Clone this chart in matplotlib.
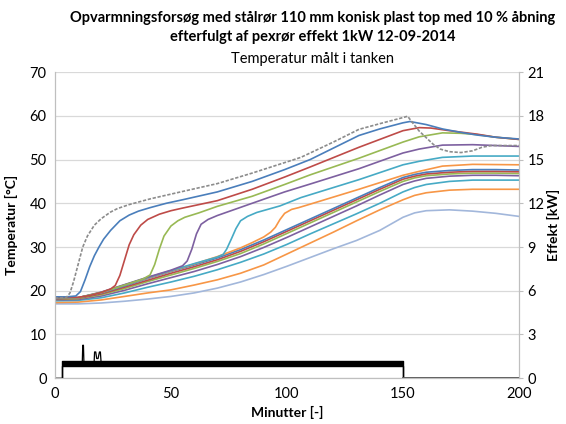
import matplotlib
matplotlib.use('Agg')
import matplotlib.pyplot as plt

plt.rcParams['font.family'] = ['Lato', 'DejaVu Sans']

# lower bundle of sensors (shared time axis, minutes)
t_low = [0, 10, 20, 30, 40, 50, 60, 70, 80, 90, 100, 110, 120, 130, 140, 150, 155, 160, 170, 180, 190, 200]
low_blue = [18.2, 18.4, 19.5, 21.1, 22.8, 24.4, 25.9, 27.5, 29.4, 31.6, 34.0, 36.4, 38.8, 41.2, 43.6, 45.9, 46.6, 47.1, 47.5, 47.7, 47.7, 47.6]
low_red = [18.1, 18.3, 19.3, 20.8, 22.4, 24.0, 25.5, 27.1, 29.0, 31.2, 33.6, 36.0, 38.4, 40.8, 43.2, 45.5, 46.2, 46.7, 47.1, 47.3, 47.3, 47.2]
low_green = [18.0, 18.2, 19.1, 20.5, 22.1, 23.6, 25.1, 26.7, 28.5, 30.7, 33.1, 35.5, 37.9, 40.3, 42.7, 45.0, 45.8, 46.3, 46.7, 46.9, 46.9, 46.8]
low_purple = [17.9, 18.0, 18.8, 20.1, 21.6, 23.0, 24.4, 26.0, 27.8, 29.9, 32.2, 34.6, 37.0, 39.4, 41.9, 44.3, 45.1, 45.7, 46.2, 46.4, 46.4, 46.3]
low_teal = [17.7, 17.8, 18.4, 19.5, 20.8, 22.0, 23.3, 24.8, 26.5, 28.4, 30.6, 33.0, 35.3, 37.6, 40.0, 42.6, 43.6, 44.3, 45.0, 45.3, 45.3, 45.3]
low_orange = [17.3, 17.4, 17.9, 18.7, 19.5, 20.2, 21.3, 22.5, 24.0, 25.9, 28.4, 30.9, 33.4, 36.0, 38.5, 40.8, 41.8, 42.4, 43.0, 43.2, 43.2, 43.2]
low_lightblue = [17.0, 17.0, 17.2, 17.6, 18.1, 18.7, 19.5, 20.6, 22.0, 23.7, 25.6, 27.6, 29.6, 31.5, 33.8, 36.8, 37.8, 38.3, 38.5, 38.2, 37.7, 37.0]

# upper sensors, each with its own time points
t_s1 = [0, 5, 9, 11, 13, 15, 17, 19, 21, 24, 28, 32, 36, 41, 48, 55, 70, 85, 99, 110, 131, 140, 150, 153, 160, 167, 175, 182, 190, 200]
s1 = [18.6, 18.6, 18.8, 19.8, 22.5, 25.5, 28.0, 30.0, 31.8, 33.8, 36.0, 37.3, 38.2, 39.0, 40.0, 40.8, 42.6, 45.0, 47.7, 50.0, 55.5, 57.0, 58.4, 58.7, 58.0, 57.0, 56.2, 55.6, 55.1, 54.7]
t_s2 = [0, 10, 15, 20, 24, 26, 28, 30, 32, 34, 37, 40, 45, 50, 55, 70, 85, 99, 110, 131, 150, 157, 162, 170, 182, 190, 200]
s2 = [18.5, 18.5, 18.9, 19.6, 20.4, 21.2, 23.5, 27.0, 30.5, 32.8, 35.0, 36.3, 37.5, 38.3, 38.9, 40.6, 43.2, 46.0, 48.3, 52.8, 56.6, 57.3, 57.2, 56.6, 55.8, 55.1, 54.6]
t_s3 = [0, 10, 20, 30, 38, 41, 43, 45, 47, 50, 53, 56, 62, 70, 85, 99, 110, 131, 150, 157, 167, 175, 182, 190, 200]
s3 = [18.4, 18.4, 19.6, 21.3, 22.7, 23.6, 26.0, 29.5, 32.5, 34.8, 36.0, 36.8, 37.8, 39.3, 41.6, 44.3, 46.5, 50.3, 54.0, 55.2, 56.1, 56.0, 55.7, 55.1, 54.6]
t_s4 = [0, 10, 20, 30, 40, 50, 55, 57, 59, 61, 63, 66, 70, 85, 99, 110, 131, 150, 157, 167, 180, 200]
s4 = [18.3, 18.4, 19.7, 21.4, 23.1, 24.7, 25.7, 26.8, 29.5, 33.0, 35.2, 36.3, 37.2, 40.0, 42.6, 44.4, 47.9, 51.5, 52.4, 53.3, 53.4, 53.0]
t_s5 = [0, 10, 20, 30, 40, 50, 60, 70, 72.5, 74, 76, 78, 80, 83, 87, 97, 106, 131, 150, 157, 167, 180, 200]
s5 = [18.3, 18.4, 19.6, 21.3, 23.0, 24.6, 26.2, 27.7, 28.3, 29.5, 31.8, 34.2, 36.0, 37.0, 37.9, 39.4, 41.3, 45.4, 48.8, 49.6, 50.5, 50.8, 50.8]
t_s6 = [0, 10, 20, 30, 40, 50, 60, 70, 80, 85, 90, 93, 95, 97, 99, 102, 105, 110, 131, 150, 157, 167, 180, 200]
s6 = [18.3, 18.4, 19.6, 21.3, 22.9, 24.5, 26.1, 27.8, 29.8, 31.0, 32.3, 33.4, 34.5, 36.3, 37.7, 38.6, 39.0, 39.8, 43.2, 46.4, 47.3, 48.5, 48.9, 48.8]

# grey dashed sensor
t_grey = [0, 5, 6.5, 8, 10, 12, 14, 17, 20, 24, 27, 32, 41, 55, 70, 85, 99, 106, 120, 131, 140, 150, 152, 154, 157, 160, 163, 166, 170, 175, 180, 184, 188, 200]
grey = [18.3, 18.5, 19.5, 22.0, 26.0, 30.0, 32.5, 35.0, 36.5, 38.0, 38.8, 39.7, 41.0, 42.7, 44.5, 46.9, 49.3, 50.5, 54.0, 56.9, 58.2, 59.6, 59.9, 58.5, 56.5, 55.0, 53.5, 52.4, 51.8, 51.6, 52.0, 52.8, 53.2, 53.2]

# heater power (kW)
t_power = [0, 3, 3, 150, 150, 200]
power_hi = [0, 0, 1.15, 1.15, 0, 0]
power_lo = [0, 0, 0.85, 0.85, 0, 0]
t_spike = [11.8, 12.0, 12.3, 12.5, 16.9, 17.1, 17.6, 18.0, 18.6, 19.2, 19.6, 19.9]
spike = [1.1, 2.26, 2.26, 1.1, 1.1, 1.8, 1.8, 1.35, 1.35, 1.8, 1.8, 1.1]

BLUE, RED, GREEN = '#4A7EBB', '#BE4B48', '#98B954'
PURPLE, TEAL, ORANGE = '#7D60A0', '#46AAC5', '#F79646'
LIGHTBLUE = '#A2B7DB'

fig = plt.figure(figsize=(5.66, 4.24), dpi=100)
ax = fig.add_axes([0.097, 0.108, 0.820, 0.722])
ax2 = ax.twinx()

lw = 1.2
ax.plot(t_low, low_lightblue, color=LIGHTBLUE, lw=lw)
ax.plot(t_low, low_orange, color=ORANGE, lw=lw)
ax.plot(t_low, low_teal, color=TEAL, lw=lw)
ax.plot(t_low, low_purple, color=PURPLE, lw=lw)
ax.plot(t_low, low_green, color=GREEN, lw=lw)
ax.plot(t_low, low_red, color=RED, lw=lw)
ax.plot(t_low, low_blue, color=BLUE, lw=lw)
ax.plot(t_s6, s6, color=ORANGE, lw=lw)
ax.plot(t_s5, s5, color=TEAL, lw=lw)
ax.plot(t_s4, s4, color=PURPLE, lw=lw)
ax.plot(t_s3, s3, color=GREEN, lw=lw)
ax.plot(t_s2, s2, color=RED, lw=lw)
ax.plot(t_s1, s1, color=BLUE, lw=lw)
ax.plot(t_grey, grey, color='#8C8C8C', lw=1.2, linestyle=(0, (2, 1)))

ax2.fill_between(t_power, power_lo, power_hi, color='black', lw=0)
ax2.plot(t_power, power_hi, color='black', lw=1.0)
ax2.plot(t_power, power_lo, color='black', lw=1.0)
ax2.plot(t_spike, spike, color='black', lw=0.9)
ax2.plot([150, 200], [0, 0], color='#595959', lw=2)

ax.set_xlim(0, 200)
ax.set_ylim(0, 70)
ax2.set_ylim(0, 21)
ax.set_xticks([0, 50, 100, 150, 200])
ax.set_yticks(range(0, 71, 10))
ax2.set_yticks(range(0, 22, 3))

ax.yaxis.grid(True, color='#D9D9D9', lw=0.9)
ax.set_axisbelow(True)
for a in (ax, ax2):
    for s in a.spines.values():
        s.set_color('#BFBFBF')
    a.spines['top'].set_visible(False)
ax.tick_params(axis='both', length=0, labelsize=10.5, colors='black', pad=6)
ax2.tick_params(axis='y', length=3, color='#BFBFBF', labelsize=10.5, pad=3)

ax.set_xlabel('Minutter [-]', fontweight='bold', fontsize=10, labelpad=4)
ax.set_ylabel('Temperatur [°C]', fontweight='bold', fontsize=10, labelpad=8)
ax2.set_ylabel('Effekt [kW]', fontweight='bold', fontsize=10, labelpad=2)

fig.text(0.553, 0.958, 'Opvarmningsforsøg med stålrør 110 mm konisk plast top med 10 % åbning',
         ha='center', va='center', fontweight='bold', fontsize=10.5)
fig.text(0.553, 0.912, 'efterfulgt af pexrør effekt 1kW 12-09-2014',
         ha='center', va='center', fontweight='bold', fontsize=10.5)
fig.text(0.553, 0.862, 'Temperatur målt i tanken', ha='center', va='center', fontsize=10.5)

fig.savefig('out.png', dpi=100)
